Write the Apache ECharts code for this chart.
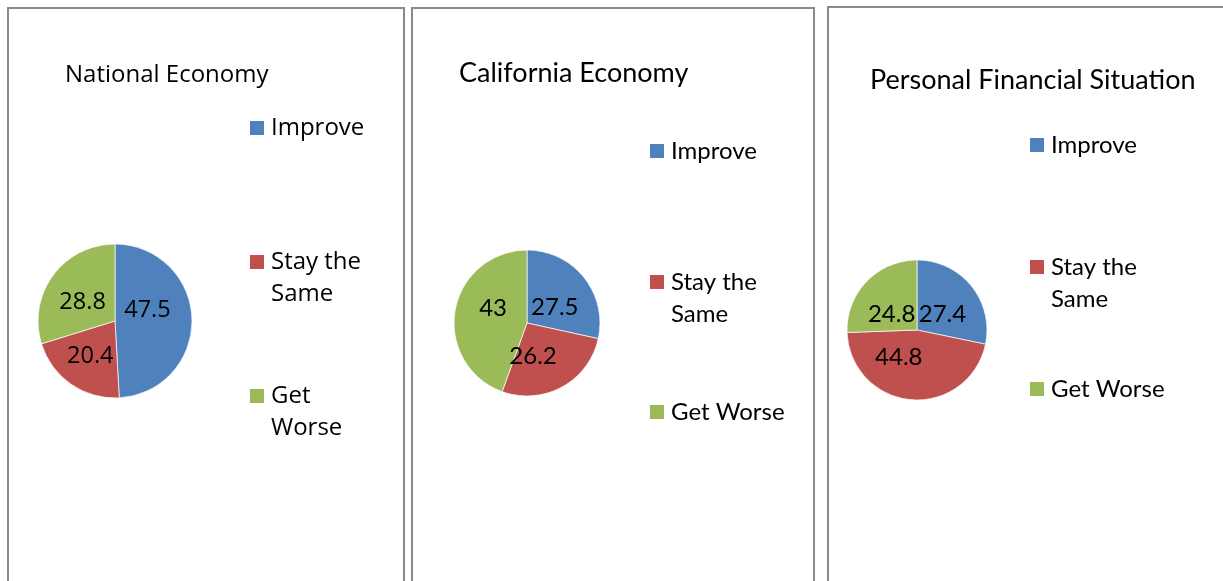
<!DOCTYPE html>
<html>
<head>
<meta charset="utf-8">
<script src="https://cdn.jsdelivr.net/npm/echarts@6/dist/echarts.min.js"></script>
<style>
html,body{margin:0;padding:0;background:#fff;}
#chart{width:1223px;height:581px;}
</style>
</head>
<body>
<div id="chart"></div>
<script>
// ---- data ----
const categories = ['Improve', 'Stay the Same', 'Get Worse'];
const titles = ['National Economy', 'California Economy', 'Personal Financial Situation'];
const nationalValues = [47.5, 20.4, 28.8];
const californiaValues = [27.5, 26.2, 43];
const personalValues = [27.4, 44.8, 24.8];
const legendLabelsNational = ['Improve', 'Stay the\nSame', 'Get\nWorse'];
const legendLabelsOther = ['Improve', 'Stay the\nSame', 'Get Worse'];

// ---- style / layout ----
const colors = ['#4F81BD', '#C0504D', '#9BBB59'];
const panels = [
  { values: nationalValues, labels: legendLabelsNational, font: 'Open Sans', titleSize: 24, size: 24, labelSize: 23.5,
    box: [8, 8, 396, 620], titleLeft: 65, titleY: 75, center: [115, 321], r: 77,
    legendLeft: 250, legendY: [128, 262, 396],
    labelNudge: [[-9, -10], [-1, 1], [1, 6]] },
  { values: californiaValues, labels: legendLabelsOther, font: 'Lato', titleSize: 27, size: 24, labelSize: 24,
    box: [412, 8, 402, 620], titleLeft: 459, titleY: 73, center: [527, 323], r: 73,
    legendLeft: 650, legendY: [151, 282, 412],
    labelNudge: [[-3, 9], [-13, -1], [5, -8]] },
  { values: personalValues, labels: legendLabelsOther, font: 'Lato', titleSize: 27, size: 24, labelSize: 24,
    box: [828, 7, 420, 620], titleLeft: 870, titleY: 80, center: [917, 330], r: 70,
    legendLeft: 1030, legendY: [145, 267, 389],
    labelNudge: [[-4, 8], [-15, -11], [2, 11]] }
];
const LINE_H = 32;

const chart = echarts.init(document.getElementById('chart'), null, { renderer: 'canvas' });

const title = [], legend = [], series = [], graphic = [];
panels.forEach((p, pi) => {
  graphic.push({
    type: 'rect', silent: true,
    shape: { x: p.box[0], y: p.box[1], width: p.box[2], height: p.box[3] },
    style: { fill: '#fff', stroke: '#8a8a8a', lineWidth: 2 }
  });
  title.push({
    text: titles[pi], left: p.titleLeft, top: p.titleY - 16, padding: 0,
    textStyle: { fontFamily: p.font, fontSize: p.titleSize, fontWeight: 'normal', color: '#000', lineHeight: 32 }
  });
  series.push({
    type: 'pie', name: titles[pi], center: p.center, radius: p.r,
    startAngle: 90, clockwise: true, animation: false, silent: true,
    itemStyle: { borderColor: '#fff', borderWidth: 0.7 },
    label: { show: true, position: 'inside', formatter: '{c}', color: '#000',
             fontFamily: p.font, fontSize: p.labelSize },
    labelLine: { show: false },
    data: categories.map((c, i) => ({
      name: c, value: p.values[i],
      itemStyle: { color: colors[i] },
      label: { offset: p.labelNudge[i] }
    }))
  });
  categories.forEach((c, i) => {
    const lbl = p.labels[i];
    const twoLine = lbl.indexOf('\n') >= 0;
    legend.push({
      orient: 'vertical', left: p.legendLeft, top: p.legendY[i] - LINE_H / 2, padding: 0,
      data: [c], selectedMode: false,
      itemWidth: 14, itemHeight: twoLine ? 14 + LINE_H : 14,
      icon: twoLine ? 'path://M0,0L14,0L14,14L0,14Z M0,' + (14 + LINE_H) : 'rect',
      itemStyle: { borderWidth: 0 },
      formatter: () => lbl,
      textStyle: { fontFamily: p.font, fontSize: p.size, color: '#000', lineHeight: LINE_H, padding: [0, 0, 0, 2] }
    });
  });
});

chart.setOption({
  animation: false,
  graphic: graphic,
  title: title,
  legend: legend,
  series: series
});
</script>
</body>
</html>
